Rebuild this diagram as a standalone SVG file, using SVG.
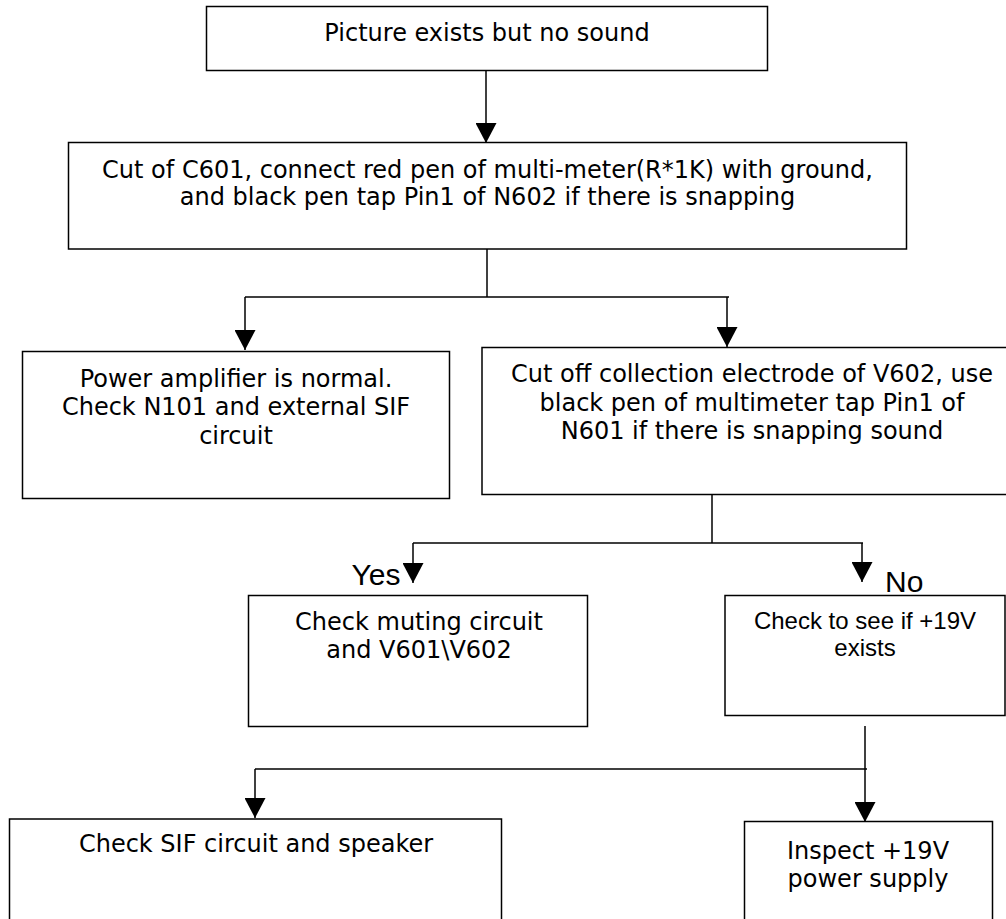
<svg xmlns="http://www.w3.org/2000/svg" width="1006" height="919" viewBox="0 0 1006 919">
<style>
.box{fill:#fff;stroke:#000;stroke-width:1.5}
.t{font-family:"DejaVu Sans",Verdana,sans-serif;font-size:24px;fill:#000;text-anchor:middle}
.a{font-family:"Liberation Sans",Arial,sans-serif;font-size:24px;fill:#000;text-anchor:middle}
.lbl{font-family:"Liberation Sans",Arial,sans-serif;font-size:30px;fill:#000}
.c{fill:none;stroke:#000;stroke-width:1.5}
</style>
<defs>
<marker id="ah" markerUnits="userSpaceOnUse" markerWidth="20" markerHeight="21" viewBox="0 0 19 20" refX="19" refY="10" orient="auto">
<path d="M0,0 L19,10 L0,20 Z" fill="#000"/>
</marker>
</defs>
<rect width="1006" height="919" fill="#fff"/>
<g id="connectors">
<path class="c" d="M486,71 V143" marker-end="url(#ah)"/>
<path class="c" d="M487,249 V297"/>
<path class="c" d="M245,297 H729"/>
<path class="c" d="M245,297 V350" marker-end="url(#ah)"/>
<path class="c" d="M727,297 V347" marker-end="url(#ah)"/>
<path class="c" d="M712,494 V543"/>
<path class="c" d="M413,543 H863"/>
<path class="c" d="M413,543 V583" marker-end="url(#ah)"/>
<path class="c" d="M862,543 V582" marker-end="url(#ah)"/>
<path class="c" d="M865,726 V822" marker-end="url(#ah)"/>
<path class="c" d="M255,769 H867"/>
<path class="c" d="M255,769 V818" marker-end="url(#ah)"/>
</g>
<g id="n1">
<rect class="box" x="206.5" y="6.5" width="561" height="64"/>
<text class="t" x="487" y="41">Picture exists but no sound</text>
</g>
<g id="n2">
<rect class="box" x="68.5" y="142.5" width="838" height="106.5"/>
<text class="t" x="487.5" y="177.5">Cut of C601, connect red pen of multi-meter(R*1K) with ground,</text>
<text class="t" x="487.5" y="205">and black pen tap Pin1 of N602 if there is snapping</text>
</g>
<g id="n3">
<rect class="box" x="22.5" y="351.5" width="427" height="147"/>
<text class="t" x="236" y="387">Power amplifier is normal.</text>
<text class="t" x="236" y="415">Check N101 and external SIF</text>
<text class="t" x="236" y="444">circuit</text>
</g>
<g id="n4">
<rect class="box" x="482" y="347.5" width="540" height="147"/>
<text class="t" x="752" y="382">Cut off collection electrode of V602, use</text>
<text class="t" x="752" y="410.5">black pen of multimeter tap Pin1 of</text>
<text class="t" x="752" y="439">N601 if there is snapping sound</text>
</g>
<g id="lbl-yes">
<text class="lbl" x="351.5" y="585">Yes</text>
</g>
<g id="lbl-no">
<text class="lbl" x="885" y="592">No</text>
</g>
<g id="n5">
<rect class="box" x="248.5" y="595.5" width="339" height="131"/>
<text class="t" x="419" y="630">Check muting circuit</text>
<text class="t" x="419" y="658">and V601\V602</text>
</g>
<g id="n6">
<rect class="box" x="725" y="595.5" width="280" height="120"/>
<text class="a" x="865" y="629">Check to see if +19V</text>
<text class="a" x="865" y="656">exists</text>
</g>
<g id="n7">
<rect class="box" x="9.5" y="819" width="492" height="130"/>
<text class="t" x="256" y="852">Check SIF circuit and speaker</text>
</g>
<g id="n8">
<rect class="box" x="744.5" y="821.5" width="248" height="130"/>
<text class="t" x="868" y="858.5">Inspect +19V</text>
<text class="t" x="868" y="887">power supply</text>
</g>
</svg>
